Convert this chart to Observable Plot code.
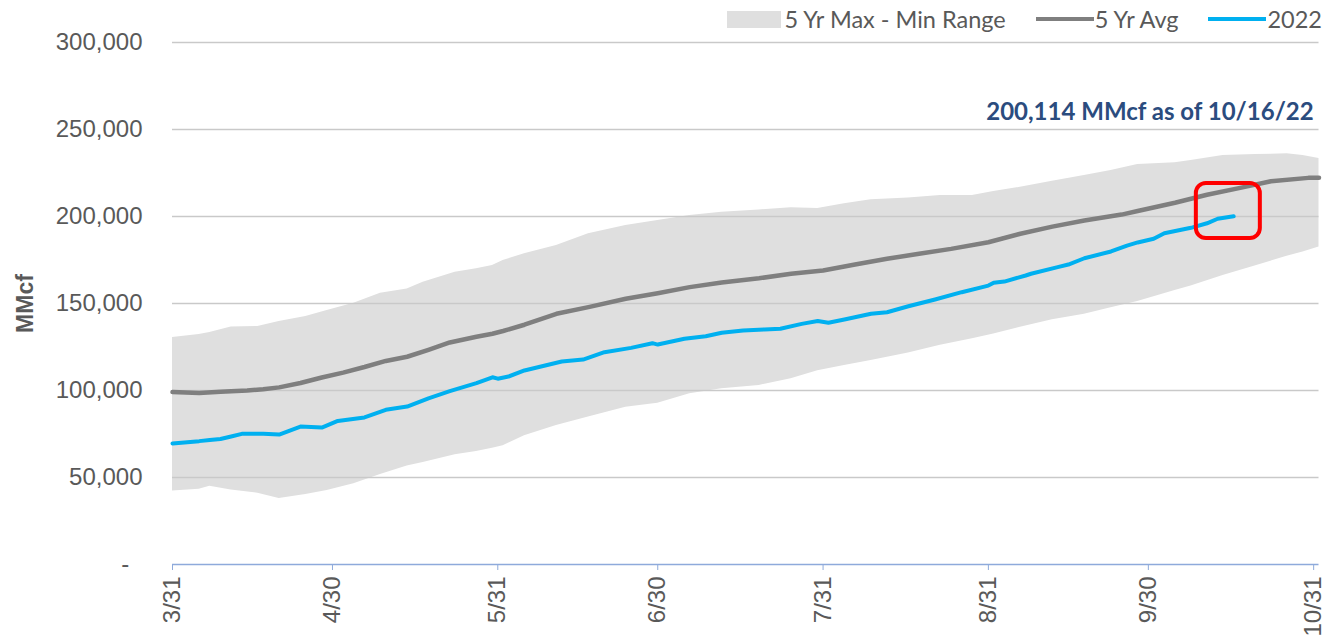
<!DOCTYPE html>
<html>
<head>
<meta charset="utf-8">
<script src="https://cdn.jsdelivr.net/npm/d3@7"></script>
<script src="https://cdn.jsdelivr.net/npm/@observablehq/plot@0.6"></script>
<style>
  html, body { margin: 0; padding: 0; background: #fff; }
  #wrap { width: 1327px; height: 638px; overflow: hidden; position: relative; }
  #chart { position: absolute; left: 0; top: 0; }
  #legend { position: absolute; right: 5px; top: 3px; height: 32px; display: flex; align-items: center; font-family: Lato, "Open Sans", sans-serif; font-size: 23.5px; color: #595959; z-index: 2; white-space: nowrap; }
  #legend .item { display: flex; align-items: center; }
  #legend .item + .item { margin-left: 30px; }
  #legend .sw { flex: none; margin-right: 3px; }
</style>
</head>
<body>
<div id="wrap">
  <div id="chart"></div>
  <div id="legend"></div>
</div>
<script>
// ---- data (MMcf) ----
const bandDates = ["2022-03-31","2022-04-05","2022-04-07","2022-04-11","2022-04-16","2022-04-20","2022-04-25","2022-04-29","2022-05-04","2022-05-09","2022-05-14","2022-05-17","2022-05-23","2022-05-27","2022-05-30","2022-06-01","2022-06-05","2022-06-11","2022-06-17","2022-06-24","2022-06-30","2022-07-06","2022-07-12","2022-07-19","2022-07-25","2022-07-30","2022-08-04","2022-08-09","2022-08-16","2022-08-22","2022-08-28","2022-09-01","2022-09-06","2022-09-12","2022-09-18","2022-09-23","2022-09-28","2022-10-05","2022-10-08","2022-10-14","2022-10-20","2022-10-26","2022-10-29","2022-11-01"];
const bandMax = [130500,132200,133300,136500,136800,139700,142500,146000,150200,155900,158400,162200,168000,169900,171800,174700,178600,183300,190100,194800,197700,200600,202500,203800,205000,204600,207300,209600,210700,212100,212100,214400,216800,220300,223600,226400,229900,230900,232200,235000,235600,236000,235000,233300];
const bandMin = [42200,43200,44900,42800,41000,37900,40300,42500,46400,51700,56600,58600,63100,65000,66800,68200,74000,79900,84700,90400,92700,98100,101000,102900,106700,111300,114300,117300,121600,126000,129800,132400,136400,140600,143800,147600,151200,157500,160100,166100,171500,177100,179600,182400];

const avgDates = ["2022-03-31","2022-04-05","2022-04-09","2022-04-14","2022-04-17","2022-04-20","2022-04-24","2022-04-28","2022-05-02","2022-05-06","2022-05-10","2022-05-14","2022-05-18","2022-05-22","2022-05-27","2022-05-30","2022-06-01","2022-06-05","2022-06-11","2022-06-17","2022-06-24","2022-06-30","2022-07-06","2022-07-12","2022-07-19","2022-07-25","2022-07-31","2022-08-06","2022-08-12","2022-08-18","2022-08-24","2022-08-31","2022-09-06","2022-09-12","2022-09-18","2022-09-25","2022-09-28","2022-10-05","2022-10-11","2022-10-17","2022-10-23","2022-10-30","2022-11-01"];
const avgValues = [99100,98600,99300,100000,100700,101800,104300,107500,110300,113500,117000,119400,123400,127600,130900,132600,134200,137800,144100,147900,152700,155900,159400,162100,164500,167100,169000,172400,175700,178600,181400,185200,190100,194200,197700,201100,203200,207900,212500,216300,220300,222200,222200];

const curDates = ["2022-03-31","2022-04-05","2022-04-07","2022-04-09","2022-04-11","2022-04-13","2022-04-17","2022-04-20","2022-04-22","2022-04-24","2022-04-28","2022-05-01","2022-05-06","2022-05-10","2022-05-14","2022-05-18","2022-05-22","2022-05-27","2022-05-30","2022-05-31","2022-06-02","2022-06-05","2022-06-12","2022-06-16","2022-06-20","2022-06-25","2022-06-29","2022-06-30","2022-07-05","2022-07-09","2022-07-12","2022-07-16","2022-07-20","2022-07-23","2022-07-27","2022-07-30","2022-08-01","2022-08-04","2022-08-09","2022-08-12","2022-08-16","2022-08-21","2022-08-26","2022-08-31","2022-09-01","2022-09-03","2022-09-07","2022-09-08","2022-09-13","2022-09-15","2022-09-18","2022-09-23","2022-09-26","2022-09-28","2022-10-01","2022-10-03","2022-10-08","2022-10-11","2022-10-13","2022-10-16"];
const curValues = [69500,70900,71600,72100,73600,75100,75200,74700,77000,79300,78700,82500,84500,88900,90800,95500,99600,104200,107600,106800,108000,111500,116700,117800,122000,124500,127200,126400,129700,131200,133200,134500,135100,135500,138300,139900,138900,140800,144100,145000,148400,152300,156500,160300,161900,162600,166100,167100,170900,172400,176000,179900,183300,185100,187200,190400,193500,196100,198700,200114];

const seriesNames = ["5 Yr Max - Min Range", "5 Yr Avg", "2022"];
const xTickDates = ["2022-03-31","2022-04-30","2022-05-31","2022-06-30","2022-07-31","2022-08-31","2022-09-30","2022-10-31"];
const yTickValues = [0,50000,100000,150000,200000,250000,300000];
const xDomain = ["2022-03-31","2022-11-01"];
const yDomain = [0, 300000];
const noteText = "200,114 MMcf as of 10/16/22";
const noteAt = {date: "2022-10-31", value: 260000};
const highlight = {start: "2022-10-09", end: "2022-10-21", low: 187300, high: 219000};
const yLabel = "MMcf";

// ---- build ----
const parse = d3.utcParse("%Y-%m-%d");
const band = bandDates.map((d, i) => ({date: parse(d), max: bandMax[i], min: bandMin[i]}));
const avg = avgDates.map((d, i) => ({date: parse(d), value: avgValues[i]}));
const cur = curDates.map((d, i) => ({date: parse(d), value: curValues[i]}));

const GRAY_BAND = "#dfdfdf", GRAY_LINE = "#7f7f7f", BLUE = "#00b0f0";

// legend
const legend = document.getElementById("legend");
legend.innerHTML = `
  <div class="item"><div class="sw" style="width:54px;height:17px;background:${GRAY_BAND}"></div><span>${seriesNames[0]}</span></div>
  <div class="item"><div class="sw" style="width:58px;height:4px;background:${GRAY_LINE};margin-right:1px"></div><span>${seriesNames[1]}</span></div>
  <div class="item"><div class="sw" style="width:58px;height:4px;background:${BLUE};margin-right:1px"></div><span>${seriesNames[2]}</span></div>`;

const fmt = d3.format(",");
const chart = Plot.plot({
  width: 1327,
  height: 638,
  marginTop: 42,
  marginBottom: 74,
  marginLeft: 172,
  marginRight: 8.5,
  style: {fontFamily: "'Liberation Sans', Arial, sans-serif", fontSize: "24px", color: "#595959", background: "#fff"},
  x: {type: "utc", domain: xDomain.map(parse)},
  y: {domain: yDomain},
  marks: [
    Plot.areaY(band, {x: "date", y1: "min", y2: "max", fill: GRAY_BAND, curve: "linear"}),
    Plot.gridY(yTickValues.filter(v => v > 0), {stroke: "#c9c9c9", strokeOpacity: 1, strokeWidth: 1.5}),
    Plot.lineY(avg, {x: "date", y: "value", stroke: GRAY_LINE, strokeWidth: 4.5}),
    Plot.lineY(cur, {x: "date", y: "value", stroke: BLUE, strokeWidth: 4}),
    Plot.rect([highlight], {x1: d => parse(d.start), x2: d => parse(d.end), y1: "low", y2: "high", fill: "none", stroke: "#ff0000", strokeWidth: 4, rx: 10}),
    Plot.text([noteAt], {x: d => parse(d.date), y: "value", text: () => noteText, textAnchor: "end", fontSize: 24, fontWeight: "bold", fill: "#2b4c7e", fontFamily: "Lato, 'Open Sans', sans-serif"}),
    Plot.ruleY([0], {stroke: "#8eaadb", strokeWidth: 1.5}),
    Plot.axisX(xTickDates.map(parse), {tickFormat: d3.utcFormat("%-m/%-d"), tickRotate: -90, tickSize: 6, tickPadding: 6, stroke: "#8eaadb", fill: "#595959", fontSize: 24, label: null}),
    Plot.axisY(yTickValues, {tickSize: 0, tickPadding: 30, tickFormat: d => d === 0 ? "-\u00a0\u00a0" : fmt(d), fill: "#595959", fontSize: 24, label: null}),
    Plot.text([yLabel], {frameAnchor: "left", text: d => d, rotate: -90, dx: -147, textAnchor: "middle", lineAnchor: "middle", fontWeight: "bold", fontSize: 23, fill: "#595959"})
  ]
});
document.getElementById("chart").appendChild(chart);
</script>
</body>
</html>
